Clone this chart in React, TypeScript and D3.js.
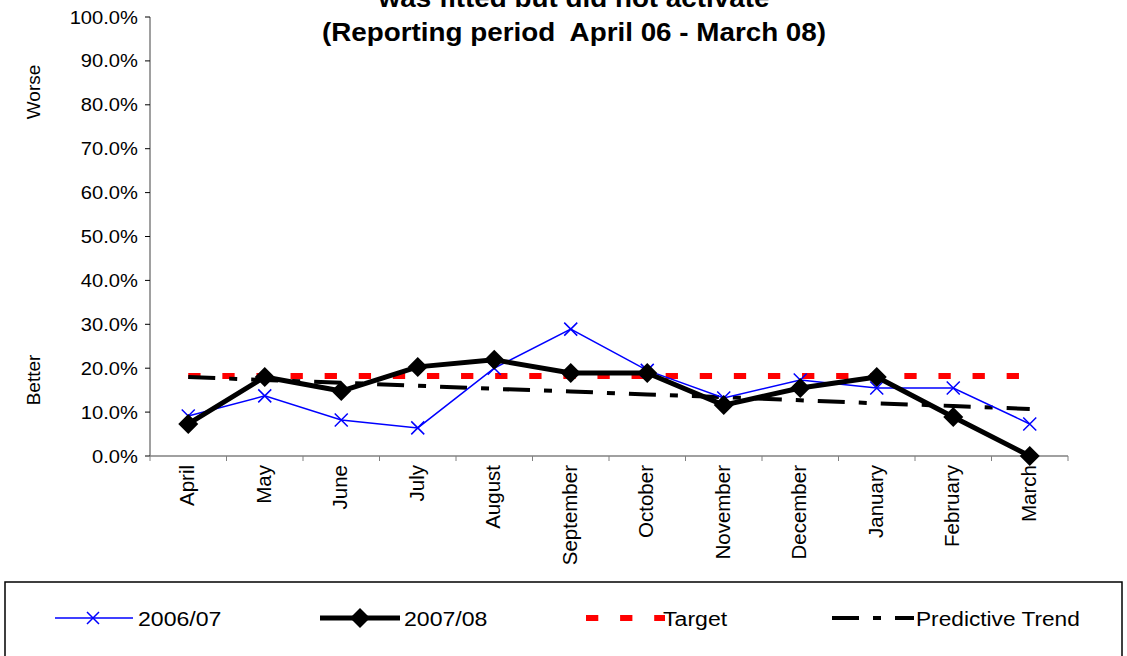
import React from "react";
import * as d3 from "d3";

const months = ["April", "May", "June", "July", "August", "September", "October", "November", "December", "January", "February", "March"];
const series0607 = [9.1, 13.7, 8.2, 6.4, 20.0, 28.9, 19.5, 13.2, 17.3, 15.5, 15.5, 7.3];
const series0708 = [7.3, 18.0, 14.8, 20.3, 21.9, 18.9, 18.9, 11.6, 15.5, 18.0, 8.9, 0.0];
const targetValues = [18.2, 18.2, 18.2, 18.2, 18.2, 18.2, 18.2, 18.2, 18.2, 18.2, 18.2, 18.2];
const trendValues = [18.0, 17.3, 16.7, 16.0, 15.3, 14.7, 14.0, 13.4, 12.7, 12.0, 11.4, 10.7];
const yTicks = [0, 10, 20, 30, 40, 50, 60, 70, 80, 90, 100];
const legendLabels = ["2006/07", "2007/08", "Target", "Predictive Trend"];

const FONT = "'Liberation Sans', Arial, sans-serif";

export default function App() {
  const W = 1127, H = 656;
  const x0 = 150, x1 = 1068, yTop = 17, yBot = 456;
  const x = d3.scaleBand<string>().domain(months).range([x0, x1]).padding(0);
  const y = d3.scaleLinear().domain([0, 100]).range([yBot, yTop]);
  const cx = (m: string) => (x(m) as number) + x.bandwidth() / 2;
  const line = d3.line<number>().x((_, i) => cx(months[i])).y((d) => y(d));

  const diamond = (px: number, py: number, r: number) =>
    `M${px},${py - r}L${px + r},${py}L${px},${py + r}L${px - r},${py}Z`;
  const cross = (px: number, py: number, r: number) =>
    `M${px - r},${py - r}L${px + r},${py + r}M${px - r},${py + r}L${px + r},${py - r}`;

  const hText = (tx: number, ty: number, s: string, size: number, anchor: string, sx = 1.1, weight = "normal") => (
    <text
      transform={`translate(${tx},${ty}) scale(${sx},1)`}
      textAnchor={anchor}
      fontSize={size}
      fontWeight={weight}
      fontFamily={FONT}
      fill="#000"
      style={{ whiteSpace: "pre" }}
    >
      {s}
    </text>
  );

  const legY = 618;

  return (
    <svg width={W} height={H} style={{ position: "absolute", left: 0, top: 0, background: "#fff" }}>
      <rect x={0} y={0} width={W} height={H} fill="#fff" />
      {/* Title (first line is cut by the top edge, as in the reference) */}
      {hText(574, 7, "was fitted but did not activate", 26, "middle", 1.07, "bold")}
      {hText(574, 41, "(Reporting period  April 06 - March 08)", 26, "middle", 1.07, "bold")}

      {/* Side labels */}
      <text transform={`translate(40,92) rotate(-90)`} textAnchor="middle" fontSize={19} fontFamily={FONT}>Worse</text>
      <text transform={`translate(40,380) rotate(-90)`} textAnchor="middle" fontSize={19} fontFamily={FONT}>Better</text>

      {/* Y axis */}
      <line x1={x0} x2={x0} y1={yTop} y2={yBot} stroke="#808080" strokeWidth={1.5} />
      {yTicks.map((t) => (
        <g key={t}>
          <line x1={x0 - 5} x2={x0} y1={y(t)} y2={y(t)} stroke="#000" strokeWidth={1} />
          {hText(x0 - 12, y(t) + 6.5, `${t.toFixed(1)}%`, 18, "end", 1.12)}
        </g>
      ))}

      {/* X axis */}
      <line x1={x0} x2={x1} y1={yBot} y2={yBot} stroke="#808080" strokeWidth={1.5} />
      {months.map((m) => (
        <line key={"t" + m} x1={x(m) as number} x2={x(m) as number} y1={yBot} y2={yBot + 5} stroke="#808080" strokeWidth={1} />
      ))}
      <line x1={x1} x2={x1} y1={yBot} y2={yBot + 5} stroke="#808080" strokeWidth={1} />
      {months.map((m) => (
        <text key={"l" + m} transform={`translate(${cx(m) + 6},${yBot + 9}) rotate(-90)`} textAnchor="end" fontSize={20.5} fontFamily={FONT}>
          {m}
        </text>
      ))}

      {/* Target */}
      <path d={line(targetValues) as string} fill="none" stroke="#ff0000" strokeWidth={6} strokeDasharray="12.3,21.8" />
      {/* Trend */}
      <path d={line(trendValues) as string} fill="none" stroke="#000" strokeWidth={4} strokeDasharray="27,14,8,14" />
      {/* 2006/07 */}
      <path d={line(series0607) as string} fill="none" stroke="#0000ff" strokeWidth={1.5} />
      {series0607.map((v, i) => (
        <path key={"c" + i} d={cross(cx(months[i]), y(v), 6.5)} stroke="#0000ff" strokeWidth={1.5} fill="none" />
      ))}
      {/* 2007/08 */}
      <path d={line(series0708) as string} fill="none" stroke="#000" strokeWidth={5} strokeLinejoin="round" />
      {series0708.map((v, i) => (
        <path key={"d" + i} d={diamond(cx(months[i]), y(v), 10)} fill="#000" />
      ))}

      {/* Legend */}
      <rect x={5} y={582} width={1117} height={90} fill="#fff" stroke="#000" strokeWidth={1.5} />
      <line x1={55} x2={133} y1={legY} y2={legY} stroke="#0000ff" strokeWidth={1.5} />
      <path d={cross(93, legY, 6)} stroke="#0000ff" strokeWidth={1.5} fill="none" />
      {hText(138, legY + 8, legendLabels[0], 21, "start", 1.1)}

      <line x1={320} x2={400} y1={legY} y2={legY} stroke="#000" strokeWidth={5} />
      <path d={diamond(360, legY, 10)} fill="#000" />
      {hText(404, legY + 8, legendLabels[1], 21, "start", 1.1)}

      <line x1={586} x2={665} y1={legY} y2={legY} stroke="#ff0000" strokeWidth={6} strokeDasharray="12.3,21.8" />
      {hText(663, legY + 8, legendLabels[2], 21, "start", 1.1)}

      <line x1={832} x2={914} y1={legY} y2={legY} stroke="#000" strokeWidth={4} strokeDasharray="27,14,8,14" />
      {hText(916, legY + 8, legendLabels[3], 21, "start", 1.08)}
    </svg>
  );
}
